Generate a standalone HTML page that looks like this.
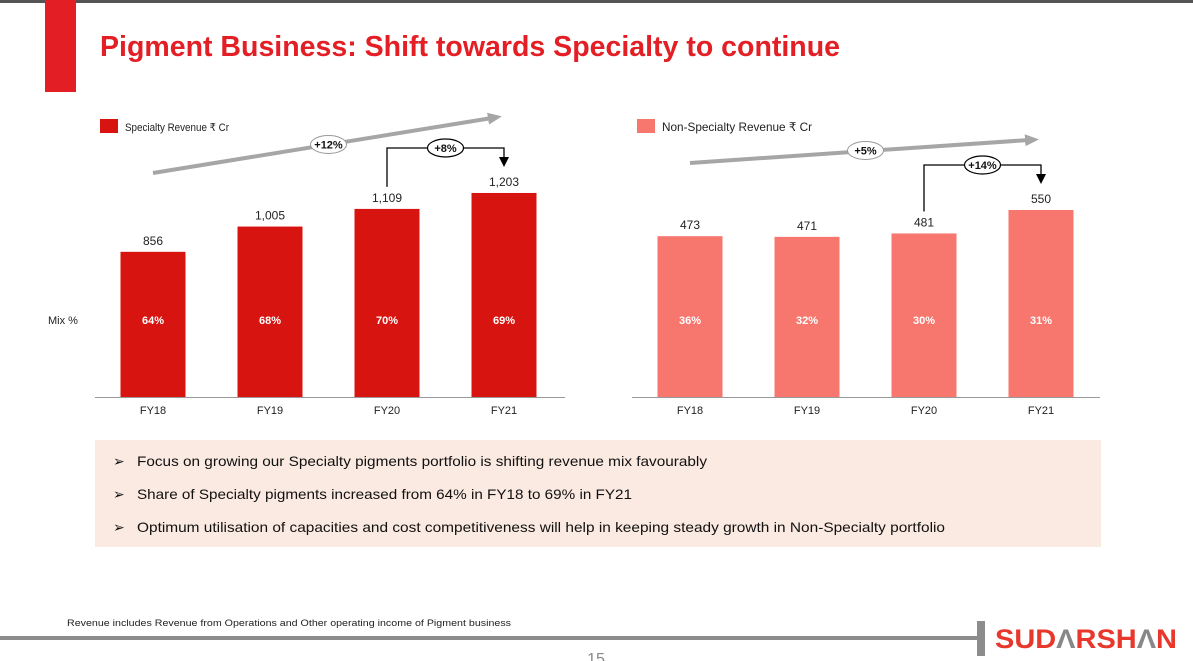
<!DOCTYPE html>
<html><head><meta charset="utf-8"><style>
body{margin:0;background:#fff;}
svg{display:block;font-family:"Liberation Sans",sans-serif;}
</style></head><body>
<svg id="s" width="1193" height="661" viewBox="0 0 1193 661">
<rect x="0" y="0" width="1193" height="3" fill="#555"/>
<rect x="45" y="0" width="31" height="92" fill="#e31e24"/>
<text x="100" y="56" font-size="29" font-weight="bold" fill="#e31e24" textLength="740" lengthAdjust="spacingAndGlyphs">Pigment Business: Shift towards Specialty to continue</text>

<rect x="100" y="119" width="18" height="14" fill="#d7140f"/>
<text x="125" y="131" font-size="11" fill="#222" textLength="104" lengthAdjust="spacingAndGlyphs">Specialty Revenue ₹ Cr</text>
<rect x="637" y="119" width="18" height="14" fill="#f7766e"/>
<text x="662" y="131" font-size="12" fill="#222" textLength="150" lengthAdjust="spacingAndGlyphs">Non-Specialty Revenue ₹ Cr</text>
<text x="48" y="324" font-size="11" fill="#222">Mix %</text>

<defs>
<marker id="ga" markerUnits="userSpaceOnUse" markerWidth="14" markerHeight="12" refX="4" refY="6" orient="auto"><path d="M0,0 L14,6 L0,12z" fill="#a6a6a6"/></marker>
<marker id="ba" markerUnits="userSpaceOnUse" markerWidth="10" markerHeight="10" refX="2" refY="5" orient="auto"><path d="M0,0 L10,5 L0,10z" fill="#000"/></marker>
</defs>
<g id="left"></g>
<g id="right"></g>

<rect x="95" y="440" width="1006" height="107" fill="#fbeae1"/>
<g font-size="14" fill="#111">
<text x="113" y="466">➢</text>
<text x="137" y="466" textLength="570" lengthAdjust="spacingAndGlyphs">Focus on growing our Specialty pigments portfolio is shifting revenue mix favourably</text>
<text x="113" y="499">➢</text>
<text x="137" y="499" textLength="495" lengthAdjust="spacingAndGlyphs">Share of Specialty pigments increased from 64% in FY18 to 69% in FY21</text>
<text x="113" y="532">➢</text>
<text x="137" y="532" textLength="808" lengthAdjust="spacingAndGlyphs">Optimum utilisation of capacities and cost competitiveness will help in keeping steady growth in Non-Specialty portfolio</text>
</g>
<text x="67" y="626" font-size="9" fill="#222" textLength="444" lengthAdjust="spacingAndGlyphs">Revenue includes Revenue from Operations and Other operating income of Pigment business</text>
<rect x="0" y="636" width="980" height="4" fill="#8c8c8c"/>
<rect x="977" y="621" width="8" height="35" fill="#8c8c8c"/>
<text x="995" y="648" font-size="27" font-weight="bold" fill="#e8372c" textLength="182" lengthAdjust="spacingAndGlyphs">SUD<tspan fill="#888">Λ</tspan>RSH<tspan fill="#888">Λ</tspan>N</text>
<text x="596" y="664" font-size="16" fill="#888" text-anchor="middle">15</text>
</svg>
<script>
const categories = ["FY18","FY19","FY20","FY21"];
const specialtyValues = [856,1005,1109,1203];
const specialtyLabels = ["856","1,005","1,109","1,203"];
const specialtyMix = ["64%","68%","70%","69%"];
const nonSpecialtyValues = [473,471,481,550];
const nonSpecialtyLabels = ["473","471","481","550"];
const nonSpecialtyMix = ["36%","32%","30%","31%"];
const cagrLabels = ["+12%","+5%"];
const yoyLabels = ["+8%","+14%"];
const NS = "http://www.w3.org/2000/svg";
function mk(g, tag, attrs, txt){const e=document.createElementNS(NS,tag);for(const k in attrs)e.setAttribute(k,attrs[k]);if(txt!==undefined)e.textContent=txt;g.appendChild(e);return e;}
function drawChart(gid, vals, labs, mix, color, x0, x1, first, step, scale, cagr, yoy, trendY0, trendY1, name){
  const g=document.getElementById(gid), base=397, w=65;
  const X=i=>first+i*step, Y=v=>base-v*scale;
  vals.forEach((v,i)=>{
    const r=mk(g,'rect',{x:X(i)-w/2,y:Y(v),width:w,height:base-Y(v),fill:color});
    
    
    const t=mk(g,'text',{x:X(i),y:Y(v)-7,'font-size':12,'text-anchor':'middle',fill:'#222'},labs[i]);
    
    
    const m=mk(g,'text',{x:X(i),y:324,'font-size':11,'font-weight':'bold','text-anchor':'middle',fill:'#fff'},mix[i]);
    
    
    const c=mk(g,'text',{x:X(i),y:414,'font-size':11,'text-anchor':'middle',fill:'#222'},categories[i]);
    
    
  });
  const ax=mk(g,'line',{x1:x0,x2:x1,y1:base+0.5,y2:base+0.5,stroke:'#999','stroke-width':1});
  
  
  const tr=mk(g,'line',{x1:X(0),y1:trendY0,x2:X(3)-12,y2:trendY1+2,stroke:'#a6a6a6','stroke-width':4,'marker-end':'url(#ga)'});
  
  
  const mx=(X(0)+X(3))/2, my=(trendY0+trendY1)/2;
  const e1=mk(g,'ellipse',{cx:mx,cy:my,rx:18,ry:9,fill:'#fff',stroke:'#999','stroke-width':1});
  
  
  const t1=mk(g,'text',{x:mx,y:my+4,'font-size':11,'font-weight':'bold','text-anchor':'middle',fill:'#111'},cagr);
  
  
  const top=Math.min(Y(vals[2]),Y(vals[3]))-45;
  const p=mk(g,'path',{d:`M${X(2)},${Y(vals[2])-22} V${top} H${X(3)} V${Y(vals[3])-34}`,fill:'none',stroke:'#000','stroke-width':1.3,'marker-end':'url(#ba)'});
  
  
  const bx=(X(2)+X(3))/2;
  const e2=mk(g,'ellipse',{cx:bx,cy:top,rx:18,ry:9,fill:'#fff',stroke:'#000','stroke-width':1.2});
  
  
  const t2=mk(g,'text',{x:bx,y:top+4,'font-size':11,'font-weight':'bold','text-anchor':'middle',fill:'#111'},yoy);
  
  
}
drawChart('left',specialtyValues,specialtyLabels,specialtyMix,'#d7140f',95,565,153,117,0.1696,cagrLabels[0],yoyLabels[0],173,116,'specialty');
drawChart('right',nonSpecialtyValues,nonSpecialtyLabels,nonSpecialtyMix,'#f7766e',632,1100,690,117,0.340,cagrLabels[1],yoyLabels[1],163,138,'nonspecialty');
</script>
</body></html>
